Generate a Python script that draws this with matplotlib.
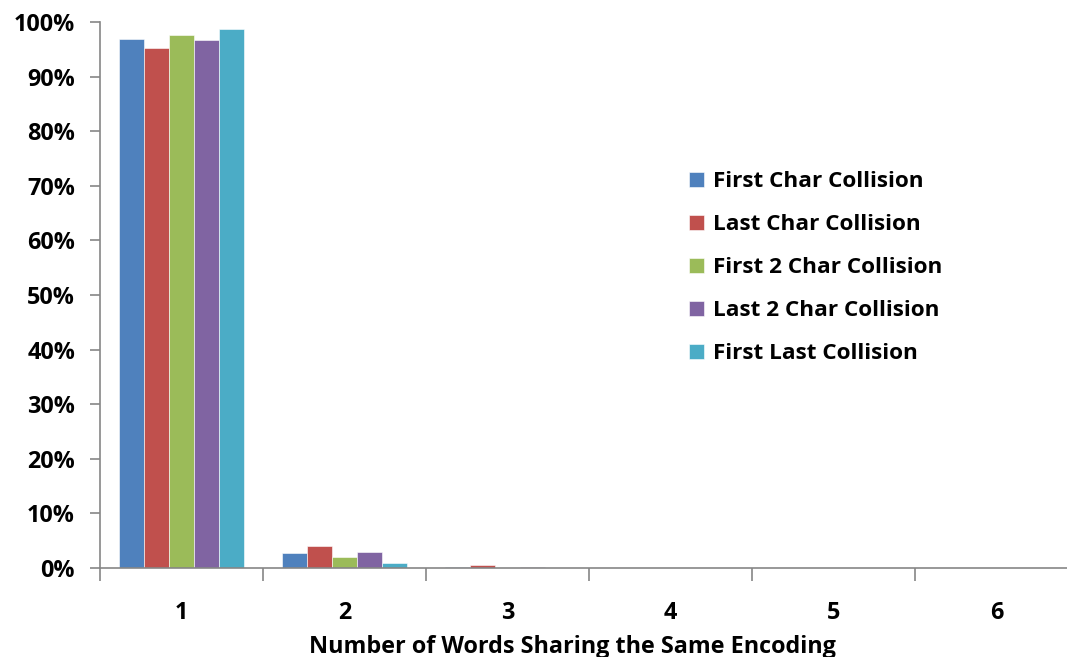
import numpy as np
import matplotlib.pyplot as plt
from matplotlib.ticker import FixedLocator, PercentFormatter

# --- data ---
groups = ["1", "2", "3", "4", "5", "6"]
first_char = [96.8, 2.7, 0.13, 0.0, 0.0, 0.0]
last_char = [95.2, 4.0, 0.5, 0.02, 0.0, 0.0]
first_2_char = [97.6, 2.1, 0.05, 0.0, 0.0, 0.0]
last_2_char = [96.7, 2.9, 0.13, 0.0, 0.0, 0.0]
first_last = [98.7, 1.0, 0.02, 0.0, 0.0, 0.0]

series = [
    ("First Char Collision", first_char, "#4f81bd"),
    ("Last Char Collision", last_char, "#c0504d"),
    ("First 2 Char Collision", first_2_char, "#9bbb59"),
    ("Last 2 Char Collision", last_2_char, "#8064a2"),
    ("First Last Collision", first_last, "#4bacc6"),
]

plt.rcParams["font.family"] = ["Open Sans", "DejaVu Sans"]
plt.rcParams["font.weight"] = "bold"

W, H = 1067, 657
fig = plt.figure(figsize=(W / 100, H / 100), dpi=100)
# axes box in pixels: left 100, right edge of image, y from 22 (100%) to 568 (0%)
ax = fig.add_axes([100 / W, (H - 568) / H, (W - 100) / W, (568 - 22) / H])

x = np.arange(1, len(groups) + 1)
bw = 0.1535
for i, (name, vals, col) in enumerate(series):
    ax.bar(x + (i - 2) * bw, vals, width=bw, color=col, label=name,
           edgecolor="white", linewidth=0.4)

axis_gray = "#868686"
for s in ["top", "right"]:
    ax.spines[s].set_visible(False)
for s in ["left", "bottom"]:
    ax.spines[s].set_color(axis_gray)
    ax.spines[s].set_linewidth(1.2)

ax.yaxis.set_major_locator(FixedLocator(np.arange(0, 101, 10)))
ax.yaxis.set_major_formatter(PercentFormatter(decimals=0))
ax.tick_params(axis="y", length=7, color=axis_gray, width=1.2,
               labelsize=16.8, pad=11)

ax.set_xticks(x)
ax.set_xticklabels(groups)
ax.set_xticks(np.arange(0.5, 7, 1), minor=True)
ax.tick_params(axis="x", which="major", length=0, labelsize=16.8, pad=24)
ax.tick_params(axis="x", which="minor", length=9, color=axis_gray, width=1.2)

# one group = 163 px; the axis runs past the image's right edge
ax.set_xlim(0.5, 0.5 + (W - 100) / 163)
ax.set_ylim(0, 100)

for lbl in ax.get_xticklabels() + ax.get_yticklabels():
    lbl.set_fontweight("bold")

fig.text(572 / W, (H - 647) / H, "Number of Words Sharing the Same Encoding",
         ha="center", va="center", fontsize=16.8, fontweight="bold")

leg = ax.legend(loc="upper left", bbox_to_anchor=((680 - 100) / (W - 100), (568 - 162) / 546),
                frameon=False, fontsize=16.2, handlelength=0.65, handleheight=0.65,
                handletextpad=0.4, labelspacing=0.98, borderaxespad=0)
for t in leg.get_texts():
    t.set_fontweight("bold")

fig.savefig("out.png", dpi=100)
